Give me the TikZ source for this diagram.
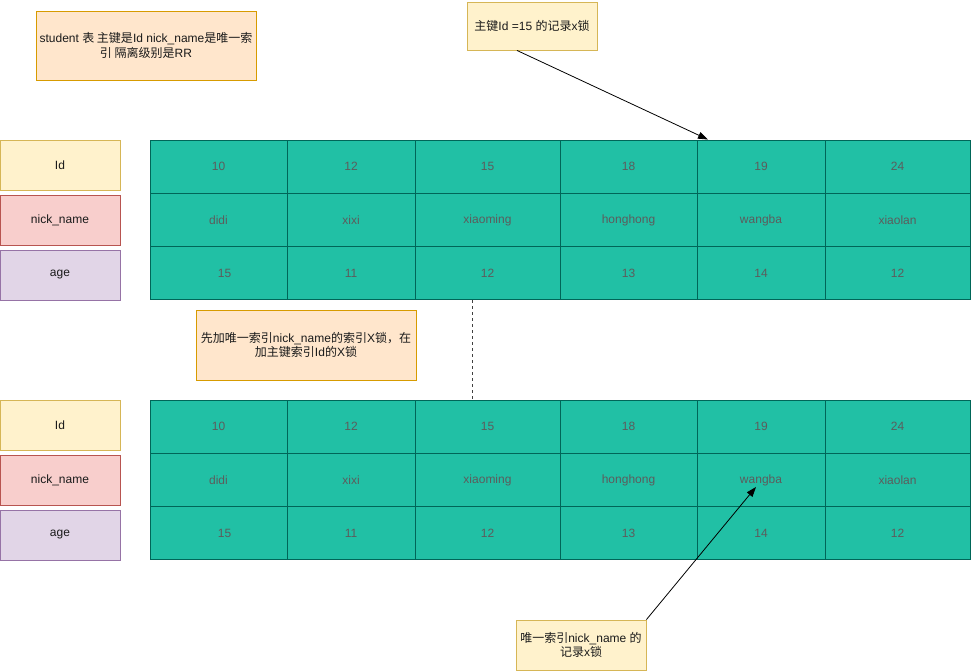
\documentclass[tikz,border=0pt]{standalone}
\usepackage{fontspec}
\setmainfont{Liberation Sans}
\newfontfamily\cjk{Noto Sans CJK SC}
\usetikzlibrary{arrows.meta, positioning}
\definecolor{cellgreen}{HTML}{21C0A5}
\definecolor{celledge}{HTML}{006658}
\definecolor{celltext}{HTML}{5C5C5C}
\definecolor{noteorange}{HTML}{FFE6CC}
\definecolor{noteorangeedge}{HTML}{D79B00}
\definecolor{noteyellow}{HTML}{FFF2CC}
\definecolor{noteyellowedge}{HTML}{D6B656}
\definecolor{keyred}{HTML}{F8CECC}
\definecolor{keyrededge}{HTML}{B85450}
\definecolor{keyviolet}{HTML}{E1D5E7}
\definecolor{keyvioletedge}{HTML}{9673A6}
\definecolor{inktext}{HTML}{1A1A1A}
\newcommand{\boxfont}{\fontsize{12}{14.5}\selectfont}

\tikzset{
  cell/.style={draw=celledge, fill=cellgreen, text=celltext, line width=0.9pt,
    minimum height=53.3pt, inner sep=0pt, font=\boxfont},
  keybox/.style={minimum width=120pt, minimum height=50pt, inner sep=0pt,
    line width=0.9pt, text=inktext, font=\boxfont},
  note/.style={align=center, inner sep=0pt, line width=0.9pt, text=inktext, font=\boxfont},
  pointer/.style={-{Triangle[length=10pt,width=7pt]}, line width=0.8pt}
}

\begin{document}
\begin{tikzpicture}[x=1pt, y=-1pt]
  \useasboundingbox (0,0) rectangle (971,671);

  % Notes
  \node[note, draw=noteorangeedge, fill=noteorange, minimum width=220pt, minimum height=69pt] (info) at (146,45.5)
    {student {\cjk 表 主键是}Id nick\_name{\cjk 是唯一索}\\{\cjk 引 隔离级别是}RR};
  \node[note, draw=noteyellowedge, fill=noteyellow, minimum width=130pt, minimum height=48pt] (lockid) at (532,26)
    {{\cjk 主键}Id =15 {\cjk 的记录}x{\cjk 锁}};

  % Tables
  \foreach \tb/\rowy in {A/140, B/400} {
    \node[keybox, draw=noteyellowedge, fill=noteyellow] (key\tb1) at (60,\rowy+25) {Id};
    \node[keybox, draw=keyrededge, fill=keyred] (key\tb2) at (60,\rowy+80) {nick\_name};
    \node[keybox, draw=keyvioletedge, fill=keyviolet] (key\tb3) at (60,\rowy+135) {age};
    \foreach \lft/\cw/\idv/\nmv/\agv [count=\c] in {
        150/137/10/didi/\hspace*{12pt}15,
        287/128/12/xixi/11,
        415/145/15/xiaoming/12,
        560/137/18/honghong/13,
        697/128/19/wangba/14,
        825/145/24/xiaolan/12} {
      \node[cell, minimum width=\cw pt] (id\tb\c) at (\lft+\cw/2,\rowy+26.65) {\idv};
      \node[cell, minimum width=\cw pt] (name\tb\c) at (\lft+\cw/2,\rowy+79.95) {\nmv};
      \node[cell, minimum width=\cw pt] (age\tb\c) at (\lft+\cw/2,\rowy+133.25) {\agv};
    }
  }

  % Middle
  \node[note, draw=noteorangeedge, fill=noteorange, minimum width=220pt, minimum height=70pt] (order) at (306,345)
    {{\cjk 先加唯一索引}nick\_name{\cjk 的索引}X{\cjk 锁，在}\\{\cjk 加主键索引}Id{\cjk 的}X{\cjk 锁}};
  \draw[draw=black!75, line width=0.8pt, dash pattern=on 3pt off 3pt]
    ([xshift=-15.5pt]ageA3.south) -- ([xshift=-15.5pt]idB3.north);

  % Bottom
  \node[note, draw=noteyellowedge, fill=noteyellow, minimum width=130pt, minimum height=50pt] (lockname) at (581,645)
    {{\cjk 唯一索引}nick\_name {\cjk 的}\\{\cjk 记录}x{\cjk 锁}};

  \draw[pointer] ([xshift=-15pt]lockid.south) -- ([xshift=-53pt]idA5.north);
  \draw[pointer] (lockname.north east) -- ([xshift=-5pt,yshift=-7pt]nameB5.center);
\end{tikzpicture}
\end{document}
